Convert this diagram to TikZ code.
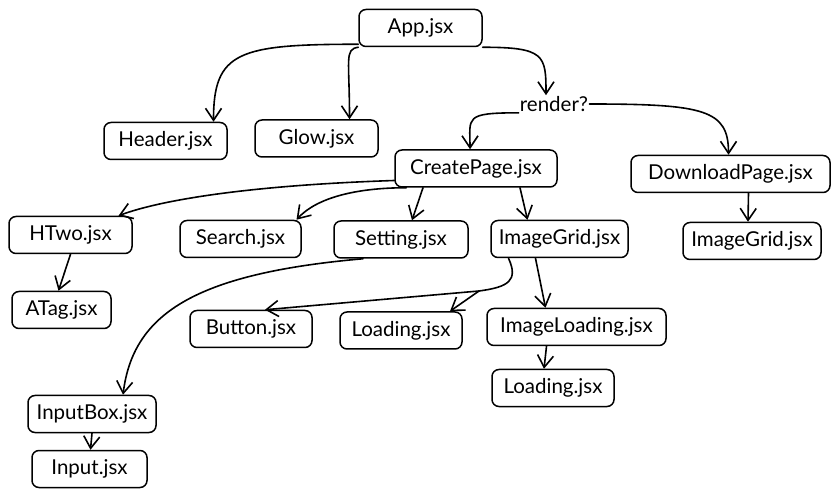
\documentclass[tikz,border=0pt]{standalone}
\usepackage{fontspec}
\setmainfont{Lato}
\usetikzlibrary{arrows.meta}
\tikzset{
  file/.style={draw, rounded corners=7pt, line width=1.5pt, minimum height=37pt,
               inner sep=0pt, font=\fontsize{20.5}{24}\selectfont},
  link/.style={line width=1.6pt, line cap=round,
               -{Straight Barb[length=12pt, width=16pt, line width=1.6pt]}},
}
\begin{document}
\begin{tikzpicture}[x=1pt, y=-1pt]
    \useasboundingbox (0,0) rectangle (839,497);
    % component boxes
    \foreach \name/\px/\py/\w/\txt in {
        app/420.5/28/123/App.jsx, header/165.5/141/123/Header.jsx,
        glow/316.5/138.5/123/Glow.jsx, create/476/168.5/162/CreatePage.jsx,
        download/730.5/174/199/DownloadPage.jsx, htwo/70.5/235/123/HTwo.jsx,
        search/240.5/239/121/Search.jsx, setting/401/239.5/134/Setting.jsx,
        grid/559.5/239/137/ImageGrid.jsx, gridb/752/241/138/ImageGrid.jsx,
        atag/61.5/310/99/ATag.jsx, button/251/329/122/Button.jsx,
        loading/401/330.5/122/Loading.jsx, imgload/576.5/327/179/ImageLoading.jsx,
        loadingb/553/388/122/Loading.jsx, inputbox/92/414/128/InputBox.jsx,
        input/89.5/469/115/Input.jsx}{
      \node[file, minimum width=\w pt] (\name) at (\px,\py) {\txt};
    }
    \node[font=\fontsize{20.5}{24}\selectfont, inner sep=1pt] (render) at (554,104) {render?};
    \coordinate (gridsplit) at (479,291);

    % App
    \draw[link] ([yshift=3pt]app.south west) .. controls +(-120,0) and +(0,-70) .. ([xshift=48pt]header.north);
    \draw[link] (app.south west) .. controls +(-14,2) and +(0,-60) .. ([xshift=33pt]glow.north);
    \draw[link] (app.south east) .. controls +(62,0) and +(0,-40) .. ([xshift=-8pt]render.north);
    \draw[link] (render.south west) .. controls +(-55,0) and +(0,-32) .. ([xshift=-6pt]create.north);
    \draw[link] (render.east) .. controls +(115,0) and +(0,-45) .. ([xshift=-2pt]download.north);
    % CreatePage
    \draw[link] ([yshift=-12pt]create.west) .. controls +(-150,5) and +(40,-15) .. ([xshift=48pt]htwo.north);
    \draw[link] ([xshift=12pt]create.south west) .. controls +(-50,0) and +(20,-22) .. ([xshift=56pt]search.north);
    \draw[link] ([xshift=-53pt]create.south) -- ([xshift=11pt]setting.north);
    \draw[link] ([xshift=44pt]create.south) -- ([xshift=-32pt]grid.north);
    \draw[link] ([xshift=18pt]download.south) -- ([xshift=-4pt]gridb.north);
    \draw[link] (htwo.south) -- ([xshift=-3pt]atag.north);
    \draw[link] ([xshift=-38pt]setting.south) .. controls +(-170,15) and +(10,-80) .. ([xshift=31pt]inputbox.north);
    % ImageGrid
    \draw[line width=1.6pt, line cap=round] ([xshift=-51pt]grid.south) .. controls +(10,22) and +(30,-4) .. (gridsplit);
    \draw[link] (gridsplit) -- ([xshift=14pt]button.north);
    \draw[link] (gridsplit) -- ([xshift=49pt]loading.north);
    \draw[link] ([xshift=-24pt]grid.south) -- ([xshift=-31pt]imgload.north);
    \draw[link] ([xshift=-30pt]imgload.south) -- ([xshift=-9pt]loadingb.north);
    \draw[link] (inputbox.south) -- ([xshift=1pt]input.north);
\end{tikzpicture}
\end{document}
